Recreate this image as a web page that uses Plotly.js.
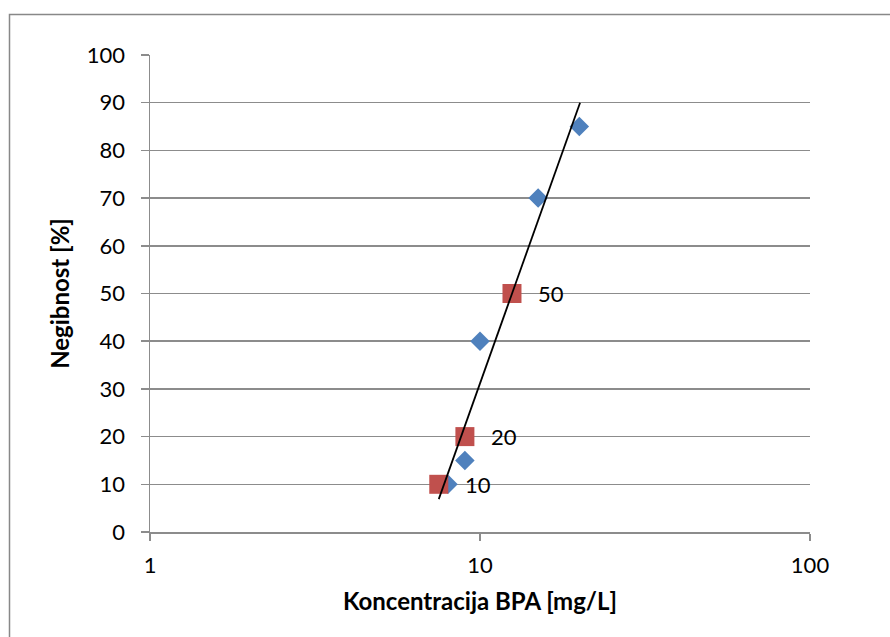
<!DOCTYPE html>
<html>
<head>
<meta charset="utf-8">
<script src="https://cdn.plot.ly/plotly-3.0.1.min.js"></script>
<style>html,body{margin:0;padding:0;background:#fff;}#chart{width:890px;height:637px;}</style>
</head>
<body>
<div id="chart"></div>
<script>
// Measured data (blue diamonds)
const blueX = [8, 9, 10, 15, 20];
const blueY = [10, 15, 40, 70, 85];
// Read-off points (red squares) with labels
const redX = [7.5, 9, 12.5];
const redY = [10, 20, 50];
const redLabels = ['10', '20', '50'];
// Trendline endpoints
const trendX = [7.5, 20.1];
const trendY = [6.9, 90];
// Axis ticks
const yTicks = [0, 10, 20, 30, 40, 50, 60, 70, 80, 90, 100];
const xTicks = [1, 10, 100];

const FONT = 'Lato, "Open Sans", sans-serif';
const GRID = '#8c8c8c';

const traces = [
  {x: blueX, y: blueY, type: 'scatter', mode: 'markers',
   marker: {symbol: 'diamond', size: 15, color: '#4F81BD', line: {width: 0}}},
  {x: redX, y: redY, type: 'scatter', mode: 'markers',
   marker: {symbol: 'square', size: 19, color: '#C0504D', line: {width: 0}}},
  {x: trendX, y: trendY, type: 'scatter', mode: 'lines',
   line: {color: '#000000', width: 1.8}}
];

const annotations = redX.map((x, i) => ({
  x: Math.log10(x), y: redY[i], xref: 'x', yref: 'y', text: redLabels[i],
  showarrow: false, xanchor: 'left', yanchor: 'middle', xshift: 24,
  font: {family: FONT, size: 22, color: '#000'}
}));

const layout = {
  width: 890, height: 637,
  margin: {l: 150, r: 80, t: 55, b: 105, pad: 0},
  paper_bgcolor: '#ffffff', plot_bgcolor: '#ffffff',
  showlegend: false,
  font: {family: FONT, size: 22, color: '#000'},
  xaxis: {
    type: 'log', range: [0, 2], tickvals: xTicks, ticktext: xTicks.map(String),
    showgrid: false, zeroline: false, showline: true, linecolor: GRID, linewidth: 1.5,
    ticks: 'outside', ticklen: 7, tickcolor: GRID, tickwidth: 1.5,
    ticklabelstandoff: 6,
    tickfont: {family: FONT, size: 22, color: '#000'},
    title: {text: 'Koncentracija BPA [mg/L]', font: {family: FONT, size: 24, color: '#000', weight: 'bold'}, standoff: 16}
  },
  yaxis: {
    range: [0, 100], tickvals: yTicks, ticktext: yTicks.map(String),
    showgrid: true, gridcolor: GRID, gridwidth: 1.5, zeroline: false,
    showline: true, linecolor: GRID, linewidth: 1.5,
    ticks: 'outside', ticklen: 8, tickcolor: GRID, tickwidth: 1.5,
    ticklabelstandoff: 11,
    tickfont: {family: FONT, size: 22, color: '#000'},
    title: {text: 'Negibnost [%]', font: {family: FONT, size: 24, color: '#000', weight: 'bold'}, standoff: 10}
  },
  annotations: annotations,
  shapes: [{
    type: 'rect', xref: 'paper', yref: 'paper', layer: 'above',
    x0: (9.5 - 150) / 660, x1: (900 - 150) / 660,
    y0: -(650 - 532) / 477, y1: 1 + (55 - 14.5) / 477,
    line: {color: '#888888', width: 1.5}, fillcolor: 'rgba(0,0,0,0)'
  }]
};

Plotly.newPlot('chart', traces, layout, {staticPlot: true, displayModeBar: false});
</script>
</body>
</html>
